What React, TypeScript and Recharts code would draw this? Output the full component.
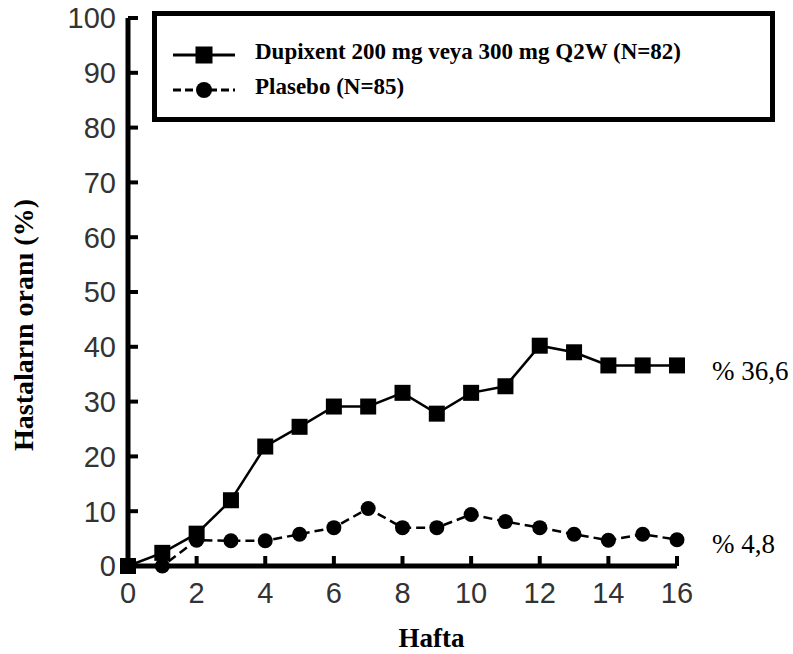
import React from 'react';
import { LineChart, Line, XAxis, YAxis, Legend, Label } from 'recharts';

const weeks = [0, 1, 2, 3, 4, 5, 6, 7, 8, 9, 10, 11, 12, 13, 14, 15, 16];
const dupixentValues = [0, 2.4, 5.9, 12.0, 21.8, 25.4, 29.1, 29.1, 31.6, 27.8, 31.6, 32.8, 40.2, 39.0, 36.6, 36.6, 36.6];
const placeboValues = [0, 0, 4.7, 4.6, 4.6, 5.8, 7.0, 10.5, 7.0, 7.0, 9.4, 8.1, 7.0, 5.8, 4.7, 5.8, 4.8];
const seriesNames = ['Dupixent 200 mg veya 300 mg Q2W (N=82)', 'Plasebo (N=85)'];
const endLabels = ['% 36,6', '% 4,8'];
const xTicks = [0, 2, 4, 6, 8, 10, 12, 14, 16];
const yTicks = [0, 10, 20, 30, 40, 50, 60, 70, 80, 90, 100];
const xAxisTitle = 'Hafta';
const yAxisTitle = 'Hastaların oranı (%)';

const data = weeks.map((w, i) => ({ week: w, dupixent: dupixentValues[i], placebo: placeboValues[i] }));

const SERIF = '"Liberation Serif", "Times New Roman", serif';
const SANS = '"Liberation Sans", Arial, sans-serif';

const SquareDot = (props: any) => {
  const { cx, cy } = props;
  if (cx == null || cy == null) return null;
  return <rect x={cx - 8} y={cy - 8} width={16} height={16} fill="#000" />;
};

const CircleDot = (props: any) => {
  const { cx, cy } = props;
  if (cx == null || cy == null) return null;
  return <circle cx={cx} cy={cy} r={7.5} fill="#000" />;
};

const YTick = (props: any) => {
  const { x, y, payload } = props;
  return (
    <g>
      {payload.value !== 0 && (
        <line x1={x + 12} x2={x + 22} y1={y} y2={y} stroke="#000" strokeWidth={4} />
      )}
      <text x={x} y={y} dy="0.36em" textAnchor="end" fontFamily={SANS} fontSize={29} fill="#333">
        {payload.value}
      </text>
    </g>
  );
};

const XTick = (props: any) => {
  const { x, y, payload } = props;
  return (
    <g>
      {payload.value !== 0 && (
        <line x1={x} x2={x} y1={y - 10} y2={y} stroke="#000" strokeWidth={4} />
      )}
      <text x={x} y={y + 37} textAnchor="middle" fontFamily={SANS} fontSize={29} fill="#333">
        {payload.value}
      </text>
    </g>
  );
};

const makeEndLabel = (text: string, dy: number) => (props: any) => {
  const { x, y, index } = props;
  if (index !== weeks.length - 1) return null;
  return (
    <text x={x + 35} y={y + dy} fontFamily={SERIF} fontSize={27} fill="#000">
      {text}
    </text>
  );
};

const LegendIcon = ({ dataKey }: { dataKey: string }) => (
  <svg width={62} height={20} style={{ display: 'block', marginTop: 7 }}>
    <line
      x1={0}
      x2={62}
      y1={10}
      y2={10}
      stroke="#000"
      strokeWidth={3}
      strokeDasharray={dataKey === 'placebo' ? '8 4' : undefined}
    />
    {dataKey === 'placebo' ? (
      <circle cx={31} cy={10} r={8} fill="#000" />
    ) : (
      <rect x={22.5} y={1.5} width={17} height={17} fill="#000" />
    )}
  </svg>
);

const LegendContent = (props: any) => {
  const payload = props.payload || [];
  return (
    <div style={{ padding: '18px 0 0 16px' }}>
      {payload.map((entry: any, i: number) => (
        <div key={i} style={{ display: 'flex', alignItems: 'center', height: 35 }}>
          <LegendIcon dataKey={String(entry.dataKey)} />
          <span
            style={{
              marginLeft: 20,
              fontFamily: SERIF,
              fontWeight: 'bold',
              fontSize: 23,
              lineHeight: '35px',
              color: '#000',
              whiteSpace: 'nowrap',
            }}
          >
            {entry.value}
          </span>
        </div>
      ))}
    </div>
  );
};

const XTitle = (props: any) => {
  const vb = props.viewBox || {};
  return (
    <text
      x={vb.x + vb.width / 2 + 29}
      y={vb.y + 81}
      textAnchor="middle"
      fontFamily={SERIF}
      fontWeight="bold"
      fontSize={27}
      fill="#000"
    >
      {xAxisTitle}
    </text>
  );
};

const YTitle = (props: any) => {
  const vb = props.viewBox || {};
  const cx = vb.x - 5;
  const cy = vb.y + vb.height / 2 + 33;
  return (
    <text
      x={cx}
      y={cy}
      transform={`rotate(-90, ${cx}, ${cy})`}
      textAnchor="middle"
      dominantBaseline="central"
      fontFamily={SERIF}
      fontWeight="bold"
      fontSize={28}
      fill="#000"
    >
      {yAxisTitle}
    </text>
  );
};

export default function App() {
  return (
    <div style={{ position: 'absolute', left: 0, top: 0, width: 793, height: 654, background: '#fff' }}>
      <LineChart width={793} height={654} data={data} margin={{ top: 18, right: 116, bottom: 28, left: 28 }}>
        <XAxis
          dataKey="week"
          type="number"
          domain={[0, 16]}
          ticks={xTicks}
          interval={0}
          tickSize={0}
          tickMargin={0}
          tickLine={false}
          axisLine={{ stroke: '#000', strokeWidth: 5 }}
          tick={<XTick />}
          height={60}
        >
          <Label content={<XTitle />} />
        </XAxis>
        <YAxis
          type="number"
          domain={[0, 100]}
          ticks={yTicks}
          interval={0}
          tickSize={0}
          tickMargin={12}
          tickLine={false}
          axisLine={{ stroke: '#000', strokeWidth: 5 }}
          tick={<YTick />}
          width={100}
        >
          <Label content={<YTitle />} />
        </YAxis>
        <Legend
          layout="vertical"
          align="center"
          verticalAlign="middle"
          content={<LegendContent />}
          wrapperStyle={{
            position: 'absolute',
            left: 152,
            top: 11,
            width: 623,
            height: 111,
            border: '5px solid #000',
            boxSizing: 'border-box',
            background: '#fff',
          }}
        />
        <Line
          dataKey="dupixent"
          name={seriesNames[0]}
          stroke="#000"
          strokeWidth={2.5}
          dot={<SquareDot />}
          activeDot={false}
          isAnimationActive={false}
          label={makeEndLabel(endLabels[0], 15)}
        />
        <Line
          dataKey="placebo"
          name={seriesNames[1]}
          stroke="#000"
          strokeWidth={2.5}
          strokeDasharray="9 5"
          dot={<CircleDot />}
          activeDot={false}
          isAnimationActive={false}
          label={makeEndLabel(endLabels[1], 13)}
        />
      </LineChart>
    </div>
  );
}
